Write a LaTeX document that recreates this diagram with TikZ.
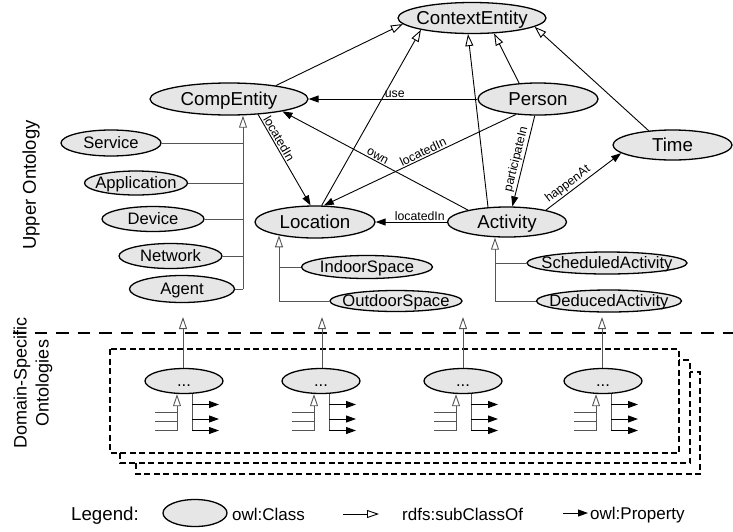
\documentclass[tikz,border=0pt]{standalone}
\usepackage{fontspec}
\setmainfont{Liberation Sans}
\usetikzlibrary{arrows.meta,shapes.geometric}
\newcommand\ctxt[1]{\smash{\makebox[0pt]{\raisebox{-0.36em}{#1}}}}
\definecolor{clsfill}{RGB}{230,230,230}
\definecolor{treeline}{RGB}{85,85,85}
\begin{document}
\begin{tikzpicture}[x=1pt,y=-1pt,
  cls/.style={ellipse, draw=black, line width=1.3pt, fill=clsfill, inner sep=0pt},
  big/.style={cls, font=\fontsize{18.7}{22}\selectfont},
  mid/.style={cls, font=\fontsize{16.6}{20}\selectfont},
  sub/.style={-{Triangle[length=12pt,width=8pt,fill=white]}, line width=0.9pt},
  prop/.style={-{Triangle[length=10pt,width=7pt]}, line width=0.9pt},
  tree/.style={line width=0.9pt, draw=treeline},
  elab/.style={font=\fontsize{12.3}{14}\selectfont, inner sep=1.2pt},
  dbox/.style={line width=1.2pt, dash pattern=on 6pt off 3.5pt},
  sepline/.style={line width=1.5pt, dash pattern=on 12.5pt off 9pt},
  legtxt/.style={font=\fontsize{17}{20}\selectfont, inner sep=0pt, anchor=base west},
  side/.style={rotate=90, font=\fontsize{18.5}{22}\selectfont, align=center, inner sep=0pt}]
\useasboundingbox (0,0) rectangle (733,531);

% upper ontology classes
\node[big, minimum width=148pt, minimum height=31pt] (ctx) at (472,18) {\ctxt{ContextEntity}};
\node[big, minimum width=158pt, minimum height=32pt] (comp) at (229,99) {\ctxt{CompEntity}};
\node[big, minimum width=120pt, minimum height=32pt] (person) at (538,99) {\ctxt{Person}};
\node[big, minimum width=119pt, minimum height=30pt] (time) at (672.5,145) {\ctxt{Time}};
\node[big, minimum width=120pt, minimum height=32pt] (loc) at (315,222) {\ctxt{Location}};
\node[big, minimum width=119pt, minimum height=30pt] (act) at (507,222) {\ctxt{Activity}};

\node[mid, minimum width=100pt, minimum height=26pt] (service) at (111,143) {\ctxt{Service}};
\node[mid, minimum width=103pt, minimum height=24pt] (app) at (136,183) {\ctxt{Application}};
\node[mid, minimum width=102pt, minimum height=25pt] (device) at (153,219) {\ctxt{Device}};
\node[mid, minimum width=103pt, minimum height=25pt] (network) at (170.5,256) {\ctxt{Network}};
\node[mid, minimum width=105pt, minimum height=27pt] (agent) at (182,289) {\ctxt{Agent}};
\node[mid, minimum width=131pt, minimum height=23pt] (indoor) at (367,267) {\ctxt{IndoorSpace}};
\node[mid, minimum width=132pt, minimum height=21pt] (outdoor) at (396,301) {\ctxt{OutdoorSpace}};
\node[mid, minimum width=160pt, minimum height=22pt] (sched) at (607,263) {\ctxt{ScheduledActivity}};
\node[mid, minimum width=145pt, minimum height=22pt] (deduced) at (609,301) {\ctxt{DeducedActivity}};

% subclass edges to ContextEntity
\draw[sub] (comp.16) -- (ctx.185);
\draw[sub] (loc.68) -- (ctx.193);
\draw[sub] (act.142) -- (ctx.256);
\draw[sub] (person.140) -- (ctx.325);
\draw[sub] (time.149) -- (ctx.352);

% properties
\draw[prop] (person.west) -- node[elab, above, pos=0.49]{use} (comp.east);
\draw[prop] (comp.332) -- node[elab, sloped, above, pos=0.3]{locatedIn} (loc.105);
\draw[prop] (person.215) -- node[elab, sloped, above, pos=0.47]{locatedIn} (loc.62);
\draw[prop] (act.163) -- node[elab, sloped, above, pos=0.5]{own} (comp.347);
\draw[prop] (person.259) -- node[elab, sloped, above, pos=0.5]{participateIn} (act.71);
\draw[prop] (act.17.6) -- node[elab, sloped, above, pos=0.35]{happenAt} (time.189.6);
\draw[prop] (act.west) -- node[elab, above, pos=0.38]{locatedIn} (loc.east);

% CompEntity subclass tree
\coordinate (ct) at (243,289);
\draw[sub, tree] (ct) -- (ct |- comp.south);
\draw[tree] (service.east) -- (service.east -| ct);
\draw[tree] (app.east) -- (app.east -| ct);
\draw[tree] (device.east) -- (device.east -| ct);
\draw[tree] (network.east) -- (network.east -| ct);
\draw[tree] (agent.east) -- (ct);

% Location subclass tree
\coordinate (lt) at (279,301);
\draw[sub, tree] (lt) -- (lt |- loc.200);
\draw[tree] (indoor.west) -- (indoor.west -| lt);
\draw[tree] (outdoor.west) -- (lt);

% Activity subclass tree
\coordinate (atr) at (495,301);
\draw[sub, tree] (atr) -- (atr |- act.south);
\draw[tree] (sched.west) -- (sched.west -| atr);
\draw[tree] (deduced.west) -- (atr);

% separator
\coordinate (sepa) at (13,333);
\coordinate (sepb) at (733,333);
\draw[sepline] (sepa) -- (sepb);

% domain boxes
\draw[dbox] (136,463) -- (136,474) -- (700,474) -- (700,372) -- (690,372);
\draw[dbox] (120,453) -- (120,463) -- (690,463) -- (690,360) -- (679,360);
\draw[dbox] (110,349) rectangle (679,453);

% domain classes
\foreach \n/\cx/\ux in {d1/184/183, d2/321/322, d3/463/463, d4/603/602} {
  \node[mid, minimum width=78pt, minimum height=25pt] (\n) at (\cx,381) {\ctxt{...}};
  \coordinate (\n-up) at (\ux,317);
  \draw[sub, tree] (\n.north -| \n-up) -- (\n-up);
  \draw[sub, tree] (\cx-7,430.5) -- ([xshift=-7pt]\n.south);
  \draw[tree] (\cx-29,412) -- (\cx-7,412);
  \draw[tree] (\cx-29,421) -- (\cx-7,421);
  \draw[tree] (\cx-29,430.5) -- (\cx-7,430.5);
  \draw[tree] ([xshift=8pt]\n.south) -- (\cx+8,430.5);
  \draw[prop] (\cx+8,404.5) -- (\cx+35,404.5);
  \draw[prop] (\cx+8,419) -- (\cx+35,419);
  \draw[prop] (\cx+8,430.5) -- (\cx+35,430.5);
}

% side labels
\node[side] (upper) at (31,185) {Upper Ontology};
\node[side, font=\fontsize{18}{22}\selectfont] (domain) at (33,383) {Domain-Specific\\Ontologies};

% legend
\node[legtxt, font=\fontsize{18.7}{22}\selectfont] (legtitle) at (71,520) {Legend:};
\node[cls, minimum width=64pt, minimum height=27pt] (legcls) at (195,513) {};
\node[legtxt] (legclstxt) at (232,520) {owl:Class};
\coordinate (ls1) at (343,514);
\coordinate (ls2) at (379,514);
\draw[sub] (ls1) -- (ls2);
\node[legtxt] (legsubtxt) at (402,520) {rdfs:subClassOf};
\coordinate (lp1) at (563,513);
\coordinate (lp2) at (588,513);
\draw[prop] (lp1) -- (lp2);
\node[legtxt] (legproptxt) at (590,519) {owl:Property};
\end{tikzpicture}
\end{document}
